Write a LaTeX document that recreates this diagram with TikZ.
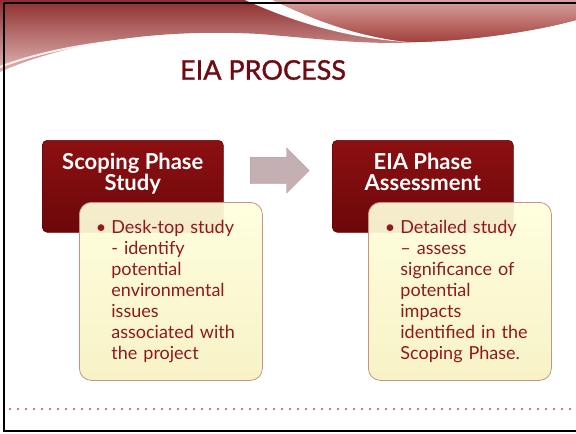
\documentclass[tikz,border=0pt]{standalone}
\usepackage{fontspec}
\setmainfont{Lato}
\usetikzlibrary{shapes.arrows, positioning}

\definecolor{titlered}{HTML}{6E0B12}
\definecolor{bodyred}{HTML}{8E1A1E}
\definecolor{phasetop}{HTML}{8C1012}
\definecolor{phasebot}{HTML}{6C0709}
\definecolor{phaseedge}{HTML}{5E0406}
\definecolor{detailtop}{HTML}{FFFFDC}
\definecolor{detailbot}{HTML}{F7F1C2}
\definecolor{detailedge}{HTML}{C6928A}
\definecolor{arrowfill}{HTML}{C4AFB2}
\definecolor{arrowedge}{HTML}{AE9A9D}
\definecolor{bannertop}{HTML}{8F2E2E}
\definecolor{bannerbot}{HTML}{E0B6B3}
\definecolor{swooshtop}{HTML}{D9A19C}
\definecolor{swooshbot}{HTML}{A2403D}
\definecolor{dotred}{HTML}{B84A5C}

\begin{document}
\begin{tikzpicture}[x=1pt, y=-1pt,
  phase/.style={draw=phaseedge, line width=0.6pt, rounded corners=5pt,
    top color=phasetop, bottom color=phasebot, minimum width=181pt,
    minimum height=92pt, inner sep=0pt, anchor=north west},
  phasetext/.style={text=white, inner sep=0pt, align=center,
    font=\bfseries\fontsize{22}{21}\selectfont},
  detail/.style={draw=detailedge, line width=0.8pt, rounded corners=12pt,
    top color=detailtop, bottom color=detailbot, fill opacity=0.93,
    text opacity=1, text=bodyred, text width=173pt, inner xsep=5pt,
    minimum height=178pt, anchor=north west,
    font=\fontsize{18}{21}\selectfont},
  blockarrow/.style={single arrow, draw=arrowedge, fill=arrowfill,
    inner xsep=0pt, inner ysep=13pt, minimum height=59pt, minimum width=45pt,
    single arrow head extend=9.5pt}]
  \useasboundingbox (0,0) rectangle (576,434);

  % banner
  \shade[top color=bannertop, bottom color=bannerbot]
    (0,0) -- (576,0) -- (576,20) .. controls (540,30) and (480,40) .. (420,42)
    .. controls (370,45) and (330,40) .. (260,34)
    .. controls (150,28) and (60,45) .. (0,72) -- cycle;
  \shade[top color=swooshtop, bottom color=swooshbot]
    (262,0) -- (576,0) -- (576,20) .. controls (540,30) and (480,40) .. (420,42)
    .. controls (370,42) and (320,22) .. (262,0) -- cycle;
  \fill[white] (245,0) -- (272,0) .. controls (310,18) and (350,35) .. (405,42)
    .. controls (340,37) and (290,20) .. (245,0) -- cycle;
  \draw[white, line width=2pt, opacity=0.85]
    (0,67) .. controls (60,44) and (150,32) .. (262,37);

  % frame
  \draw[black, line width=2.5pt] (4,3) -- (576,3);
  \draw[black, line width=2.5pt] (4,3) -- (4,431) -- (576,431);

  \node[text=titlered, font=\addfontfeature{FakeBold=1.2}\fontsize{27}{30}\selectfont]
    (title) at (263,70) {EIA PROCESS};

  % scoping phase
  \node[phase] (scope) at (42,140) {};
  \node[phasetext, below=13pt of scope.north] (scopetitle) {Scoping Phase\\Study};
  \node[detail] (scopedetail) at (79,202) {\raggedright\leftskip=27pt
    \noindent\llap{\textbullet\hspace{5pt}}Desk-top study\\
    - identify\\
    potential\\
    environmental\\
    issues\\
    associated with\\
    the project\par};

  \node[blockarrow, anchor=west] (step) at (250,170.5) {};

  % eia phase
  \node[phase] (eia) at (332,140) {};
  \node[phasetext, below=13pt of eia.north] (eiatitle) {EIA Phase\\Assessment};
  \node[detail] (eiadetail) at (368,202) {\raggedright\leftskip=27pt
    \noindent\llap{\textbullet\hspace{5pt}}Detailed study\\
    -- assess\\
    significance of\\
    potential\\
    impacts\\
    identified in the\\
    Scoping Phase.\par};

  % footer
  \draw[dotred, line width=2.4pt, line cap=round, dash pattern=on 0pt off 8pt]
    (10,409) -- (576,409);
\end{tikzpicture}
\end{document}
